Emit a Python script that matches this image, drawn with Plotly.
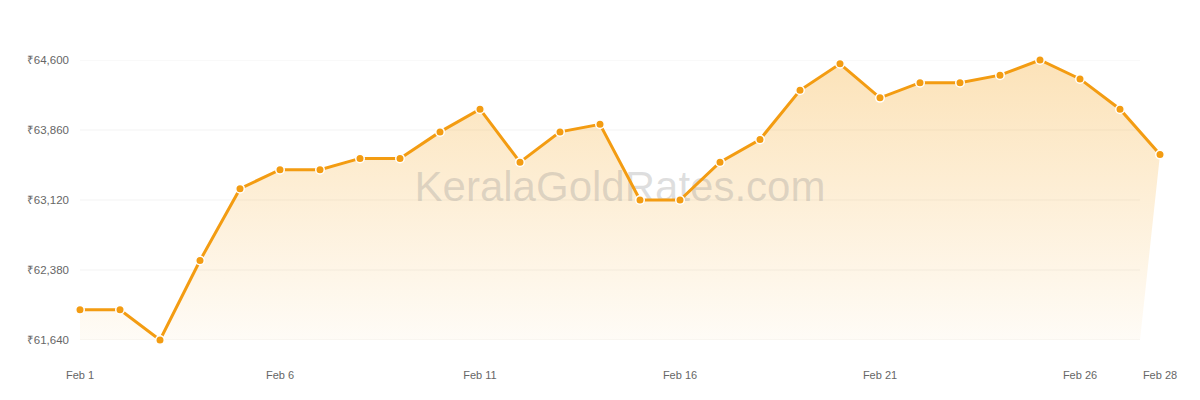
import pandas as pd
import plotly.graph_objects as go

# ---- data ----
dates = pd.date_range("2025-02-01", "2025-02-28", freq="D")
prices = [61960, 61960, 61640, 62480, 63240, 63440, 63440, 63560, 63560, 63840,
          64080, 63520, 63840, 63920, 63120, 63120, 63520, 63760, 64280, 64560,
          64200, 64360, 64360, 64440, 64600, 64400, 64080, 63600]
y_ticks = [61640, 62380, 63120, 63860, 64600]
x_tick_dates = ["2025-02-01", "2025-02-06", "2025-02-11", "2025-02-16",
                "2025-02-21", "2025-02-26", "2025-02-28"]
x_tick_labels = ["Feb 1", "Feb 6", "Feb 11", "Feb 16", "Feb 21", "Feb 26", "Feb 28"]
watermark = "KeralaGoldRates.com"

# ---- style ----
ORANGE = "#f39c12"
FONT = "Liberation Sans, Arial, sans-serif"
W, H = 1200, 400
ML, MR, MT, MB = 80, 30, 60, 60
PX_PER_DAY = 40.0
plot_w = W - ML - MR
grid_end_px = 1140 - ML

day = pd.Timedelta(days=1)
x_start = dates[0]
grid_end = x_start + day * (grid_end_px / PX_PER_DAY)   # gridlines / fill stop here
x_end = x_start + day * (plot_w / PX_PER_DAY)
y_span = y_ticks[-1] - y_ticks[0]

fig = go.Figure()

# gradient fill polygon (closes along the bottom gridline)
fill_x = list(dates) + [grid_end, dates[0]]
fill_y = list(prices) + [y_ticks[0], y_ticks[0]]
fig.add_trace(go.Scatter(
    x=fill_x, y=fill_y, mode="lines", line=dict(width=0), fill="toself",
    fillgradient=dict(type="vertical",
                      colorscale=[[0, "rgba(245,166,35,0.04)"], [1, "rgba(245,166,35,0.32)"]],
                      start=y_ticks[0], stop=y_ticks[-1]),
    hoverinfo="skip", showlegend=False))
# watermark
fig.add_trace(go.Scatter(
    x=[dates[0] + (dates[-1] - dates[0]) / 2], y=[y_ticks[0] + y_span * 0.535],
    mode="text", text=[watermark],
    textfont=dict(family=FONT, size=42, color="rgba(140,140,140,0.28)"),
    hoverinfo="skip", showlegend=False))
# line + markers
fig.add_trace(go.Scatter(
    x=dates, y=prices, mode="lines+markers",
    line=dict(color=ORANGE, width=3),
    marker=dict(size=8.5, color=ORANGE, line=dict(color="white", width=1.5)),
    cliponaxis=False, showlegend=False,
    hovertemplate="%{x|%b %d}: ₹%{y:,}<extra></extra>"))

# horizontal gridlines ending at the fill edge
for v in y_ticks:
    fig.add_shape(type="line", xref="x", yref="y", x0=x_start, x1=grid_end, y0=v, y1=v,
                  line=dict(color="#f3f3f3", width=1), layer="below")

fig.update_layout(
    width=W, height=H,
    margin=dict(l=ML, r=MR, t=MT, b=MB),
    paper_bgcolor="white", plot_bgcolor="rgba(0,0,0,0)",
    font=dict(family=FONT, size=11, color="#666666"),
    xaxis=dict(range=[x_start, x_end], tickvals=x_tick_dates, ticktext=x_tick_labels,
               showgrid=False, zeroline=False, showline=False, ticks="",
               ticklabelstandoff=27, tickfont=dict(size=11, color="#666666")),
    yaxis=dict(range=[y_ticks[0], y_ticks[-1]], tickvals=y_ticks,
               ticktext=["₹{:,}".format(v) for v in y_ticks],
               showgrid=False, zeroline=False, showline=False, ticks="",
               ticklabelstandoff=10, tickfont=dict(size=11.5, color="#666666")),
    hovermode="closest",
)

fig.write_html("out.html", config={"displayModeBar": False})
with open("out.html", "r", encoding="utf-8") as f:
    html = f.read()
html = html.replace("<head>", "<head><style>html,body{margin:0;padding:0;overflow:hidden}</style>", 1)
with open("out.html", "w", encoding="utf-8") as f:
    f.write(html)
